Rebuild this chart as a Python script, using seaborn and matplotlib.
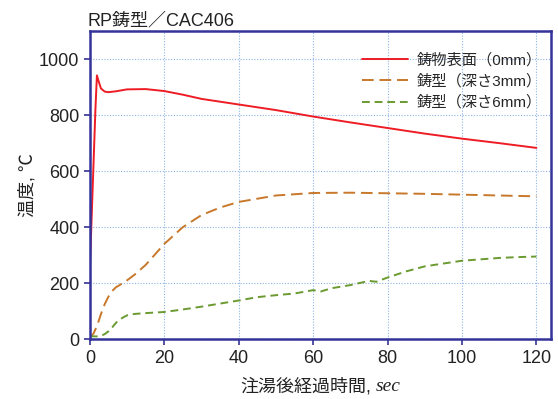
import matplotlib
matplotlib.use("Agg")
import matplotlib.pyplot as plt
from matplotlib.offsetbox import TextArea, HPacker, AnchoredOffsetbox
import seaborn as sns
import pandas as pd

sns.set_theme(style="white")
plt.rcParams['font.family'] = ['Liberation Sans', 'Noto Sans CJK JP', 'DejaVu Sans']

# Time (sec) and temperature (°C) for each measuring position
t_surface = [0, 0.5, 1, 1.5, 1.9, 2.5, 3, 4, 5, 7, 10, 15, 20, 25, 30, 40, 50, 60, 70, 80, 90, 100, 110, 120]
v_surface = [250, 440, 630, 820, 942, 915, 895, 884, 882, 885, 892, 893, 886, 873, 858, 838, 818, 795, 774, 754, 734, 716, 700, 683]

t_3mm = [0, 1, 2, 3, 4, 5, 6, 7, 8, 10, 12, 15, 18, 20, 25, 30, 35, 40, 50, 60, 70, 80, 90, 100, 110, 120]
v_3mm = [5, 20, 50, 90, 125, 152, 172, 185, 193, 210, 230, 265, 310, 340, 400, 443, 470, 490, 513, 522, 523, 521, 519, 516, 513, 510]

t_6mm = [0, 2, 3, 4, 5, 6, 7, 8, 9, 10, 12, 15, 20, 25, 30, 35, 40, 45, 50, 55, 60, 62, 65, 70, 75, 77, 80, 85, 90, 95, 100, 110, 115, 120]
v_6mm = [10, 10, 12, 18, 28, 42, 58, 70, 78, 85, 90, 93, 97, 106, 116, 127, 138, 150, 157, 163, 175, 170, 182, 193, 208, 205, 220, 242, 260, 270, 280, 290, 293, 295]

labels = ["鋳物表面（0mm）", "鋳型（深さ3mm）", "鋳型（深さ6mm）"]

df = pd.concat([
    pd.DataFrame({"time": t_surface, "temp": v_surface, "series": labels[0]}),
    pd.DataFrame({"time": t_3mm, "temp": v_3mm, "series": labels[1]}),
    pd.DataFrame({"time": t_6mm, "temp": v_6mm, "series": labels[2]}),
])

fig, ax = plt.subplots(figsize=(5.58, 3.99), dpi=100)
fig.subplots_adjust(left=0.161, right=0.988, top=0.922, bottom=0.15)

palette = {labels[0]: "#ee1c25", labels[1]: "#c8782a", labels[2]: "#6a9a30"}
dashes = {labels[0]: "", labels[1]: (6, 3), labels[2]: (4, 2.5)}
sns.lineplot(data=df, x="time", y="temp", hue="series", style="series",
             palette=palette, dashes=dashes, linewidth=1.4, ax=ax, sort=False)

ax.set_xlim(0, 124)
ax.set_ylim(0, 1100)
ax.set_xticks(range(0, 121, 20))
ax.set_yticks(range(0, 1001, 200))
ax.grid(True, color="#8fb4e8", linestyle=(0, (1, 1.5)), linewidth=0.8)
for s in ax.spines.values():
    s.set_color("#33339a")
    s.set_linewidth(1.8)
ax.tick_params(axis="both", direction="out", length=4, width=1.2, color="#33339a",
               labelsize=13, labelcolor="#222222", left=True, bottom=True)

# x label: Japanese text followed by the unit in serif italic
ax.set_xlabel("")
xl_main = TextArea("注湯後経過時間,", textprops=dict(fontsize=13, color="#222222"))
xl_unit = TextArea("sec", textprops=dict(fontsize=14, color="#222222",
                                         family="Liberation Serif", style="italic"))
xl_box = HPacker(children=[xl_main, xl_unit], align="baseline", pad=0, sep=3)
anchored = AnchoredOffsetbox(loc="upper center", child=xl_box, frameon=False,
                             bbox_to_anchor=(0.5, -0.125), bbox_transform=ax.transAxes,
                             borderpad=0, pad=0)
ax.add_artist(anchored)

ax.set_ylabel("温度, ℃", fontsize=13, color="#222222", labelpad=2)
ax.set_title("RP鋳型／CAC406", loc="left", fontsize=13, color="#222222", pad=4, x=-0.005)

leg = ax.legend(loc="upper right", frameon=False, fontsize=11, handlelength=3.0,
                bbox_to_anchor=(1.0, 0.96), borderaxespad=0.2, labelspacing=0.45,
                handletextpad=0.6)
leg.set_title(None)

fig.savefig("out.png", dpi=100)
